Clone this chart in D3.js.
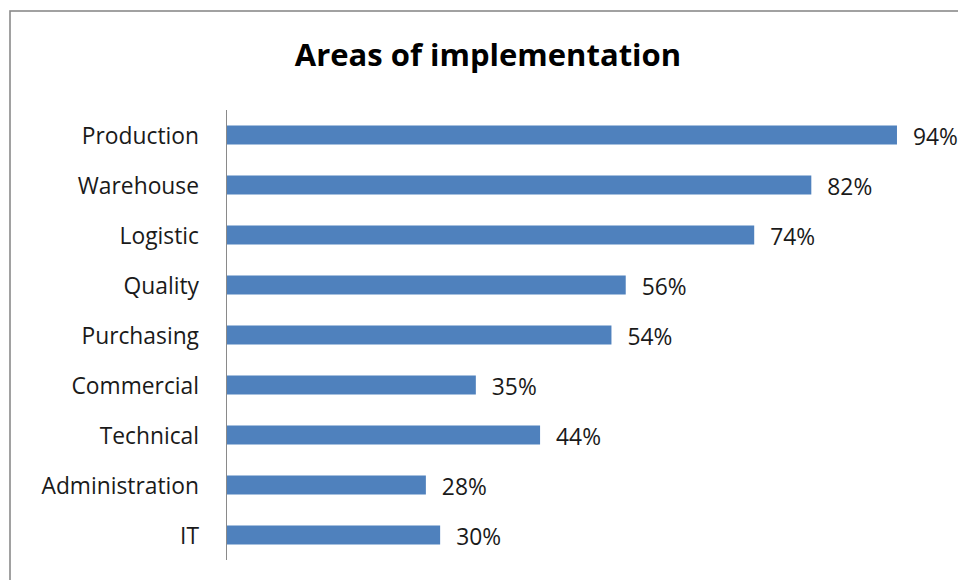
<!DOCTYPE html>
<html>
<head>
<meta charset="utf-8">
<script src="https://cdn.jsdelivr.net/npm/d3@7"></script>
<style>
  html, body { margin: 0; padding: 0; background: #fff; }
  svg { display: block; }
  text { font-family: "Open Sans", sans-serif; }
</style>
</head>
<body>
<svg id="chart" width="958" height="580"></svg>
<script>
// Share of implementations per business area (%)
const categories = ["Production", "Warehouse", "Logistic", "Quality", "Purchasing",
                    "Commercial", "Technical", "Administration", "IT"];
const values = [94, 82, 74, 56, 54, 35, 44, 28, 30];
const titleText = "Areas of implementation";

const svg = d3.select("#chart");
const W = 958, H = 580;

// outer chart frame
svg.append("rect")
  .attr("x", 10).attr("y", 11)
  .attr("width", W + 20).attr("height", H + 20)
  .attr("fill", "#fff")
  .attr("stroke", "#8a8a8a")
  .attr("stroke-width", 1.6);

const plotLeft = 226, plotTop = 110, plotBottom = 560;

const x = d3.scaleLinear().domain([0, 100]).range([plotLeft, plotLeft + 713.8]);
const y = d3.scaleBand()
  .domain(categories)
  .range([plotTop, plotBottom])
  .paddingInner(0.62)
  .paddingOuter(0.31);

// title
svg.append("text")
  .attr("x", 488).attr("y", 66)
  .attr("text-anchor", "middle")
  .attr("font-size", 31)
  .attr("font-weight", 700)
  .attr("fill", "#000")
  .text(titleText);

// bars
svg.append("g").selectAll("rect")
  .data(categories)
  .join("rect")
  .attr("x", x(0))
  .attr("y", d => y(d))
  .attr("width", (d, i) => x(values[i]) - x(0))
  .attr("height", y.bandwidth())
  .attr("fill", "#4f81bd");

// value labels
svg.append("g").selectAll("text")
  .data(categories)
  .join("text")
  .attr("x", (d, i) => x(values[i]) + 16)
  .attr("y", d => y(d) + y.bandwidth() / 2)
  .attr("dy", "0.42em")
  .attr("font-size", 22.8)
  .attr("fill", "#1a1a1a")
  .text((d, i) => values[i] + "%");

// category axis
const axis = svg.append("g")
  .attr("transform", `translate(${plotLeft},0)`)
  .call(d3.axisLeft(y).tickSize(0).tickPadding(27));
axis.select(".domain")
  .attr("d", `M0.5,${plotTop}V${plotBottom}`)
  .attr("stroke", "#8a8a8a")
  .attr("stroke-width", 1);
axis.selectAll(".tick text")
  .attr("font-family", "'Open Sans', sans-serif")
  .attr("font-size", 22.8)
  .attr("fill", "#1a1a1a")
  .attr("dy", "0.38em");
</script>
</body>
</html>
